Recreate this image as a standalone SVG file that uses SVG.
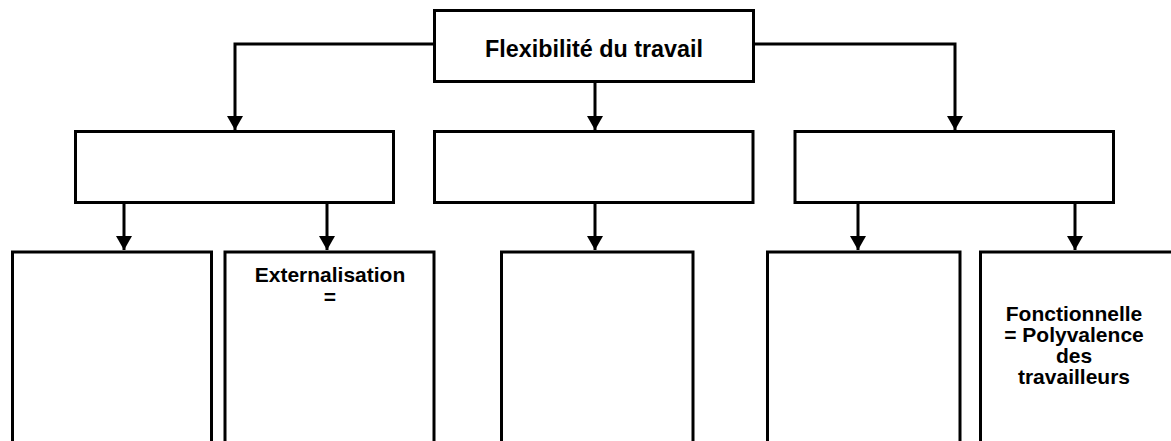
<svg xmlns="http://www.w3.org/2000/svg" width="1171" height="441" viewBox="0 0 1171 441">
<style>
.box{fill:#fff;stroke:#000;stroke-width:3}
.con{fill:none;stroke:#000;stroke-width:3;marker-end:url(#arr)}
.t{font-family:"Liberation Sans",Arial,sans-serif;font-weight:bold;fill:#000;text-anchor:middle}
</style>
<defs>
<marker id="arr" markerUnits="userSpaceOnUse" markerWidth="16" markerHeight="18" refX="14" refY="8" orient="auto">
<path d="M0,0 L14,8 L0,16 Z" fill="#000"/>
</marker>
</defs>
<rect width="1171" height="441" fill="#fff"/>
<g id="connectors">
<path class="con" d="M434,44 H235 V130"/>
<path class="con" d="M595,82 V130"/>
<path class="con" d="M754,44 H955 V130"/>
<path class="con" d="M124,202 V250"/>
<path class="con" d="M327,202 V250"/>
<path class="con" d="M595,203 V250"/>
<path class="con" d="M858,202 V250"/>
<path class="con" d="M1075,202 V250"/>
</g>
<g id="top"><rect class="box" x="434.5" y="10.5" width="319" height="71"/>
<text class="t" x="594" y="57" font-size="23.5" textLength="218" lengthAdjust="spacingAndGlyphs">Flexibilité du travail</text></g>
<g id="mid1"><rect class="box" x="75.5" y="131.5" width="318" height="71"/></g>
<g id="mid2"><rect class="box" x="434.5" y="131.5" width="318.5" height="71"/></g>
<g id="mid3"><rect class="box" x="795" y="131.5" width="318.5" height="71"/></g>
<g id="b1"><rect class="box" x="12.5" y="252" width="199" height="200"/></g>
<g id="b2"><rect class="box" x="225" y="252" width="209" height="200"/>
<text class="t" x="330" y="282" font-size="21">Externalisation</text>
<text class="t" x="330" y="304" font-size="21">=</text></g>
<g id="b3"><rect class="box" x="501.5" y="252" width="191.5" height="200"/></g>
<g id="b4"><rect class="box" x="767.5" y="252" width="192.5" height="200"/></g>
<g id="b5"><rect class="box" x="980.5" y="252" width="220" height="200"/>
<text class="t" x="1074" y="321" font-size="21">Fonctionnelle</text>
<text class="t" x="1074" y="342" font-size="21">= Polyvalence</text>
<text class="t" x="1074" y="363" font-size="21">des</text>
<text class="t" x="1074" y="384" font-size="21">travailleurs</text></g>
</svg>
